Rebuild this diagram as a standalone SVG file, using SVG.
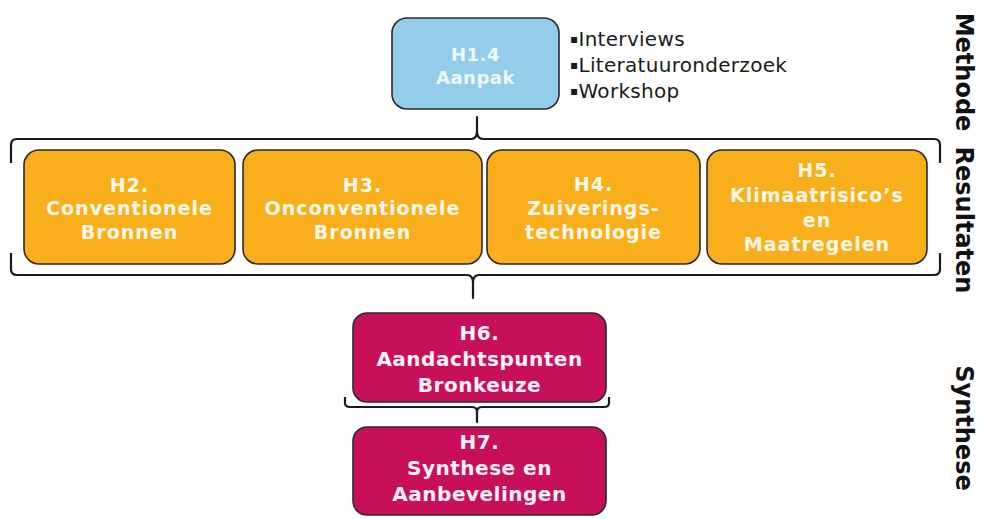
<svg xmlns="http://www.w3.org/2000/svg" width="984" height="519" viewBox="0 0 984 519">
<style>
.box{stroke:#2a2a2a;stroke-width:1.6}
.blue{fill:#93CDEA}
.orange{fill:#F9AF1C}
.red{fill:#C8105A}
.t{font-family:"DejaVu Sans","Liberation Sans",sans-serif;font-weight:bold;text-anchor:middle;fill:#FFF8EA}
.o{font-size:19px;letter-spacing:1px}
.r{font-size:20px;letter-spacing:0.5px;fill:#FFF2F7}
.b{font-size:18px;letter-spacing:0.5px;fill:#EEF8FD}
.list{font-family:"DejaVu Sans","Liberation Sans",sans-serif;font-size:20px;letter-spacing:0.3px;fill:#1a1a1a}
.dot{font-size:12px}
.side{font-family:"DejaVu Sans","Liberation Sans",sans-serif;font-weight:bold;font-size:24px;text-anchor:middle;fill:#111}
.brace{fill:none;stroke:#1a1a1a;stroke-width:2.2;stroke-linejoin:round}
</style>
<rect width="984" height="519" fill="#fff"/>
<g id="connectors">
<path class="brace" d="M11,163 V145 Q11,139 17,139 H471 Q477,139 477,131 V117 V131 Q477,139 483,139 H934 Q940,139 940,145 V163"/>
<path class="brace" d="M11,253 V269 Q11,275 17,275 H467 Q473,275 473,283 V298 V283 Q473,275 479,275 H934 Q940,275 940,269 V253"/>
<path class="brace" d="M345,397 V403 Q345,407 350,407 H472 Q477,407 477,412 V422 V412 Q477,407 482,407 H604 Q609,407 609,403 V397"/>
</g>
<g id="h14">
<rect class="box blue" x="392" y="18" width="167" height="91" rx="15"/>
<text class="t b" x="475.5" y="61">H1.4</text>
<text class="t b" x="475.5" y="84">Aanpak</text>
</g>
<g id="methods">
<text class="list" x="570" y="46"><tspan class="dot" baseline-shift="3">▪</tspan>Interviews</text>
<text class="list" x="570" y="72"><tspan class="dot" baseline-shift="3">▪</tspan>Literatuuronderzoek</text>
<text class="list" x="570" y="98"><tspan class="dot" baseline-shift="3">▪</tspan>Workshop</text>
</g>
<g id="h2">
<rect class="box orange" x="24" y="150" width="211" height="114" rx="15"/>
<text class="t o" x="129.5" y="192">H2.</text>
<text class="t o" x="129.5" y="215">Conventionele</text>
<text class="t o" x="129.5" y="239">Bronnen</text>
</g>
<g id="h3">
<rect class="box orange" x="243" y="150" width="239" height="114" rx="15"/>
<text class="t o" x="362.5" y="192">H3.</text>
<text class="t o" x="362.5" y="215">Onconventionele</text>
<text class="t o" x="362.5" y="239">Bronnen</text>
</g>
<g id="h4">
<rect class="box orange" x="487" y="150" width="213" height="114" rx="15"/>
<text class="t o" x="593.5" y="191">H4.</text>
<text class="t o" x="593.5" y="215">Zuiverings-</text>
<text class="t o" x="593.5" y="239">technologie</text>
</g>
<g id="h5">
<rect class="box orange" x="707" y="150" width="220" height="114" rx="15"/>
<text class="t o" x="817" y="177">H5.</text>
<text class="t o" x="817" y="202">Klimaatrisico’s</text>
<text class="t o" x="817" y="227">en</text>
<text class="t o" x="817" y="251">Maatregelen</text>
</g>
<g id="h6">
<rect class="box red" x="353" y="313" width="253" height="89" rx="14"/>
<text class="t r" x="479.5" y="340">H6.</text>
<text class="t r" x="479.5" y="366">Aandachtspunten</text>
<text class="t r" x="479.5" y="392">Bronkeuze</text>
</g>
<g id="h7">
<rect class="box red" x="353" y="427" width="253" height="88" rx="14"/>
<text class="t r" x="479.5" y="449">H7.</text>
<text class="t r" x="479.5" y="475">Synthese en</text>
<text class="t r" x="479.5" y="501">Aanbevelingen</text>
</g>
<g id="labels">
<text class="side" transform="translate(956,72) rotate(90)">Methode</text>
<text class="side" transform="translate(956,220) rotate(90)">Resultaten</text>
<text class="side" transform="translate(956,428) rotate(90)">Synthese</text>
</g>
</svg>
